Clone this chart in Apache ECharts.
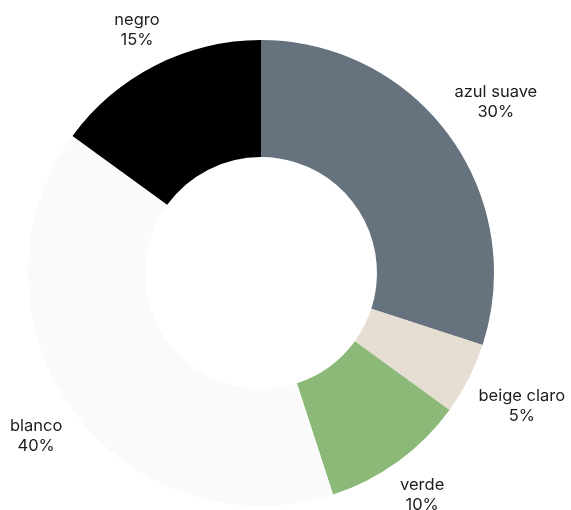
<!DOCTYPE html>
<html>
<head>
<meta charset="utf-8">
<script src="https://cdn.jsdelivr.net/npm/echarts@6/dist/echarts.min.js"></script>
<style>html,body{margin:0;padding:0;background:#fff}#c{width:571px;height:510px}</style>
</head>
<body>
<div id="c"></div>
<script>
var categories = ['azul suave', 'beige claro', 'verde', 'blanco', 'negro'];
var values = [30, 5, 10, 40, 15];
var colors = ['#66727e', '#e6ddd3', '#8db978', '#fafafa', '#000000'];

var CX = 261, CY = 273, R0 = 116, R1 = 233, LABEL_GAP = 12;
var total = values.reduce(function (a, b) { return a + b; }, 0);
var mids = [];
(function () {
  var acc = 0;
  values.forEach(function (v) { mids.push((acc + v / 2) / total * 2 * Math.PI); acc += v; });
})();

var chart = echarts.init(document.getElementById('c'), null, { renderer: 'canvas' });
chart.setOption({
  animation: false,
  series: [{
    type: 'pie',
    center: [CX, CY],
    radius: [R0, R1],
    startAngle: 90,
    clockwise: true,
    avoidLabelOverlap: false,
    data: categories.map(function (c, i) {
      return { name: c, value: values[i], itemStyle: { color: colors[i] } };
    }),
    label: {
      show: true,
      position: 'outside',
      formatter: function (p) { return p.name + '\n' + Math.round(p.percent) + '%'; },
      fontFamily: 'Inter',
      fontSize: 16.5,
      lineHeight: 20,
      color: '#1c1c1c',
      align: 'center'
    },
    labelLine: { show: false },
    labelLayout: function (p) {
      var a = mids[p.dataIndex];
      var ux = Math.sin(a), uy = -Math.cos(a);
      var w = p.labelRect.width, h = p.labelRect.height;
      var s = Math.abs(ux) * w / 2 + Math.abs(uy) * h / 2;
      var d = R1 + LABEL_GAP + s;
      return { x: CX + ux * d, y: CY + uy * d, align: 'center', verticalAlign: 'middle' };
    },
    emphasis: { disabled: true }
  }]
});
</script>
</body>
</html>
